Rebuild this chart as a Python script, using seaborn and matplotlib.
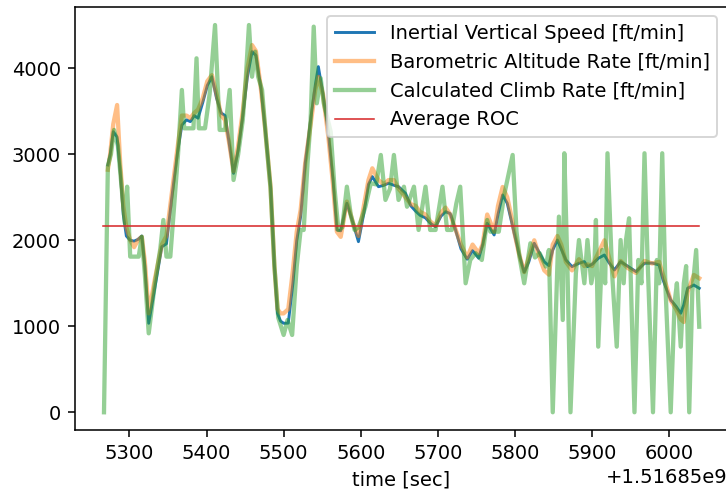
import matplotlib
matplotlib.use("Agg")
import matplotlib.pyplot as plt
import seaborn as sns
import numpy as np

TIME_BASE = 1.51685e9

# Inertial vertical speed & barometric altitude rate (shared time axis, sec after base)
t_smooth = [5272, 5275, 5279, 5284, 5288, 5292, 5296, 5301, 5306, 5311, 5316, 5320, 5325,
            5333, 5342, 5348, 5355, 5362, 5368, 5374, 5379, 5384, 5389, 5395, 5401, 5407,
            5413, 5419, 5424, 5429, 5435, 5441, 5447, 5453, 5459, 5464, 5470, 5476, 5483,
            5488, 5492, 5496, 5500, 5506, 5512, 5517, 5522, 5528, 5535, 5541, 5545, 5551,
            5558, 5564, 5569, 5574, 5582, 5590, 5597, 5604, 5610, 5615, 5623, 5630, 5636,
            5643, 5649, 5658, 5665, 5671, 5677, 5684, 5690, 5697, 5704, 5710, 5716, 5722,
            5730, 5738, 5745, 5753, 5758, 5764, 5773, 5778, 5784, 5790, 5796, 5799, 5805,
            5812, 5818, 5825, 5832, 5838, 5844, 5849, 5855, 5860, 5866, 5874, 5883, 5890,
            5894, 5900, 5908, 5916, 5922, 5929, 5937, 5946, 5957, 5968, 5978, 5987, 5992,
            6002, 6009, 6015, 6019, 6024, 6032, 6039]
inertial_vs = [2876, 3000, 3263, 3200, 2800, 2300, 2050, 2000, 1990, 2010, 2050, 1700, 1035,
               1450, 1925, 1960, 2500, 3000, 3340, 3400, 3380, 3450, 3420, 3600, 3800, 3902,
               3650, 3480, 3450, 3150, 2779, 3050, 3450, 3900, 4193, 4150, 3800, 3300, 2623,
               1700, 1151, 1060, 1035, 1037, 1500, 2000, 2275, 2900, 3400, 3800, 4019, 3700,
               3244, 2700, 2120, 2110, 2430, 2200, 1984, 2314, 2650, 2740, 2623, 2640, 2663,
               2640, 2623, 2546, 2400, 2340, 2290, 2260, 2200, 2158, 2280, 2333, 2310, 2150,
               1900, 1780, 1880, 1791, 1950, 2198, 2062, 2300, 2527, 2430, 2200, 2081, 1850,
               1630, 1750, 1965, 1850, 1750, 1705, 1887, 2003, 1900, 1771, 1694, 1733, 1752,
               1694, 1720, 1790, 1829, 1740, 1655, 1752, 1700, 1635, 1733, 1735, 1713, 1540,
               1306, 1230, 1151, 1250, 1442, 1480, 1442]
baro_rate = [2820, 3000, 3350, 3573, 2900, 2400, 2150, 2000, 1920, 2000, 2040, 1750, 1150,
             1550, 1950, 2050, 2550, 3050, 3450, 3450, 3420, 3480, 3520, 3650, 3850, 3920,
             3700, 3450, 3400, 3150, 2800, 3100, 3500, 4000, 4270, 4200, 3800, 3300, 2623,
             1700, 1200, 1150, 1150, 1200, 1650, 2100, 2350, 2900, 3350, 3750, 3900, 3700,
             3200, 2650, 2100, 2040, 2450, 2200, 2050, 2400, 2700, 2837, 2700, 2650, 2700,
             2700, 2600, 2500, 2420, 2400, 2330, 2300, 2220, 2170, 2320, 2380, 2300, 2150,
             1950, 1800, 1950, 1850, 1950, 2300, 2100, 2400, 2620, 2500, 2250, 2100, 1850,
             1630, 1800, 2000, 1800, 1650, 1600, 1950, 2050, 1950, 1750, 1650, 1780, 1700,
             1720, 1700, 1850, 2000, 1800, 1580, 1760, 1680, 1620, 1760, 1730, 1750, 1600,
             1300, 1200, 1080, 1050, 1400, 1597, 1558]

# Calculated climb rate (own time axis)
t_calc = [5267, 5272, 5276, 5280, 5285, 5290, 5294, 5297, 5301, 5312, 5316, 5320, 5325, 5333,
          5340, 5344, 5348, 5353, 5358, 5363, 5368, 5371, 5383, 5387, 5390, 5398, 5404, 5411,
          5417, 5424, 5430, 5435, 5441, 5447, 5451, 5455, 5459, 5463, 5467, 5472, 5477, 5483,
          5488, 5493, 5500, 5505, 5511, 5517, 5522, 5526, 5531, 5535, 5539, 5543, 5548, 5552,
          5561, 5566, 5571, 5576, 5582, 5587, 5592, 5597, 5602, 5606, 5613, 5620, 5626, 5632,
          5638, 5643, 5649, 5656, 5660, 5669, 5675, 5684, 5690, 5697, 5706, 5712, 5718, 5724,
          5729, 5736, 5742, 5749, 5757, 5764, 5768, 5779, 5786, 5797, 5802, 5806, 5812, 5820,
          5826, 5832, 5840, 5844, 5849, 5857, 5862, 5864, 5868, 5872, 5879, 5883, 5890, 5894,
          5899, 5903, 5905, 5908, 5913, 5917, 5920, 5926, 5932, 5937, 5941, 5944, 5948, 5955,
          5960, 5964, 5968, 5972, 5979, 5984, 5987, 5991, 5995, 6002, 6007, 6010, 6015, 6019,
          6022, 6026, 6030, 6035, 6039]
calc_climb = [0, 2860, 3000, 3283, 3100, 2600, 2200, 2623, 1810, 1810, 2040, 1600, 918, 1500,
              1900, 2236, 1810, 1810, 2400, 3000, 3748, 3302, 3302, 4116, 3302, 3302, 3700, 4503,
              3283, 3283, 3748, 2701, 3000, 3400, 3900, 4503, 3902, 4193, 3900, 3748, 3200, 2600,
              1700, 1100, 899, 1073, 899, 1700, 2120, 2120, 2900, 3400, 4484, 3593, 3884, 3593,
              3263, 2600, 2120, 2150, 2623, 2300, 2120, 2150, 2275, 2390, 2663, 2650, 2992, 2469,
              2600, 2992, 2469, 2623, 2390, 2623, 2120, 2623, 2120, 2120, 2623, 2120, 2120, 2430,
              2623, 1500, 1771, 1850, 1771, 2236, 2100, 2100, 2527, 2992, 2100, 1800, 1500, 1965,
              1800, 1850, 1694, 1887, 0, 2275, 1073, 3012, 1700, 0, 1616, 2003, 1500, 2003,
              1500, 1700, 2236, 763, 1887, 1500, 3012, 1616, 763, 2003, 1500, 2003, 2256, 0,
              1771, 1500, 3012, 1771, 0, 1771, 1500, 3012, 1500, 0, 1267, 1500, 763, 1500,
              1700, 0, 1400, 1887, 995]

avg_roc = 2170
roc_span = [5266, 6039]

labels = ["Inertial Vertical Speed [ft/min]", "Barometric Altitude Rate [ft/min]",
          "Calculated Climb Rate [ft/min]", "Average ROC"]

plt.rcParams['font.family'] = ['DejaVu Sans']
plt.rcParams['font.size'] = 10

DPI = 140
fig = plt.figure(figsize=(726 / DPI, 489 / DPI), dpi=DPI)
ax = fig.add_axes([74.7 / 726, 1 - 430 / 489, (727 - 74.7) / 726, (430 - 6.7) / 489])

ts = np.array(t_smooth, dtype=float) + TIME_BASE
tc = np.array(t_calc, dtype=float) + TIME_BASE
tr = np.array(roc_span, dtype=float) + TIME_BASE

sns.lineplot(x=ts, y=inertial_vs, ax=ax, color="#1f77b4", lw=1.5, label=labels[0])
sns.lineplot(x=ts, y=baro_rate, ax=ax, color="#ff7f0e", lw=2.2, alpha=0.5, label=labels[1])
sns.lineplot(x=tc, y=calc_climb, ax=ax, color="#2ca02c", lw=2.2, alpha=0.5, label=labels[2])
sns.lineplot(x=tr, y=[avg_roc, avg_roc], ax=ax, color="#d62728", lw=0.8, label=labels[3])

ax.set_xlim(TIME_BASE + 5229, TIME_BASE + 6075)
ax.set_ylim(-206, 4716)
ax.set_xticks(TIME_BASE + np.arange(5300, 6001, 100))
ax.set_yticks([0, 1000, 2000, 3000, 4000])
ax.ticklabel_format(axis="x", useOffset=TIME_BASE, style="plain")
ax.set_xlabel("time [sec]")
ax.set_ylabel("")

leg = ax.legend(loc="upper right", fontsize=10)

fig.savefig("out.png", dpi=DPI)
